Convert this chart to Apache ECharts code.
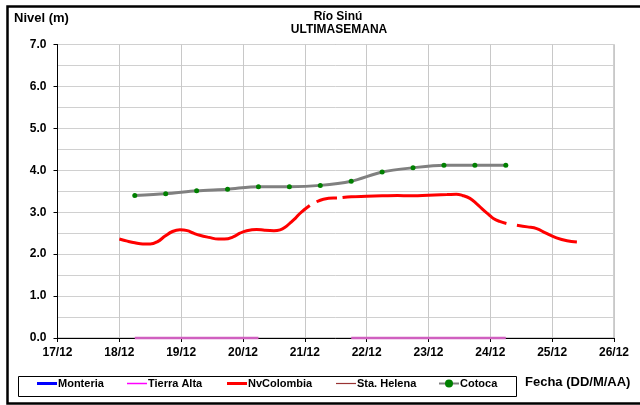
<!DOCTYPE html>
<html>
<head>
<meta charset="utf-8">
<script src="https://cdn.jsdelivr.net/npm/echarts@6/dist/echarts.min.js"></script>
<style>
  html, body { margin: 0; padding: 0; background: #fff; }
  #chart { width: 640px; height: 405px; }
</style>
</head>
<body>
<div id="chart"></div>
<script>
// Days counted from 17/12 (0 = 17/12 00:00)
const dayLabels = ['17/12', '18/12', '19/12', '20/12', '21/12', '22/12', '23/12', '24/12', '25/12', '26/12'];
const yTicks = [0, 1, 2, 3, 4, 5, 6, 7];

// Cotoca: twice-daily readings
const cotocaDays = [1.25, 1.75, 2.25, 2.75, 3.25, 3.75, 4.25, 4.75, 5.25, 5.75, 6.25, 6.75, 7.25];
const cotocaLevel = [3.40, 3.44, 3.51, 3.55, 3.61, 3.61, 3.64, 3.74, 3.96, 4.06, 4.12, 4.12, 4.12];

// NvColombia: frequent readings, null = missing reading
const nvDays = [1.00, 1.13, 1.25, 1.38, 1.50, 1.62, 1.74, 1.86, 1.98, 2.10, 2.20, 2.30, 2.45, 2.60, 2.70,
  2.84, 2.95, 3.06, 3.22, 3.35, 3.50, 3.60, 3.68, 3.76, 3.85, 3.92, 4.00, 4.08,
  4.13,
  4.19, 4.30, 4.46, 4.52,
  4.565,
  4.61, 4.75, 5.00, 5.25, 5.50, 5.70, 5.90, 6.10, 6.30, 6.45, 6.55, 6.67, 6.78, 6.89, 6.97, 7.05, 7.15, 7.26,
  7.34,
  7.43, 7.60, 7.75, 7.90, 8.07, 8.24, 8.40];
const nvLevel = [2.36, 2.31, 2.27, 2.24, 2.24, 2.30, 2.43, 2.54, 2.58, 2.56, 2.50, 2.45, 2.40, 2.36, 2.36,
  2.41, 2.50, 2.56, 2.59, 2.57, 2.56, 2.58, 2.64, 2.74, 2.86, 2.97, 3.07, 3.16,
  null,
  3.25, 3.31, 3.34, 3.34,
  null,
  3.35, 3.37, 3.38, 3.39, 3.40, 3.39, 3.40, 3.41, 3.42, 3.43, 3.40, 3.33, 3.20, 3.05, 2.95, 2.85, 2.78, 2.73,
  null,
  2.69, 2.65, 2.61, 2.50, 2.39, 2.32, 2.29];

// Tierra Alta: readings at zero, with a missing stretch
const taDays = [1.25, 2.25, 3.25, 4.00, 4.75, 5.75, 6.75, 7.25];
const taLevel = [0, 0, 0, null, 0, 0, 0, 0];

// Stations without readings in this period
const monteriaLevel = [];
const staHelenaLevel = [];

const pair = (xs, ys) => xs.map((x, i) => [x, ys[i]]);

const FONT = 'Liberation Sans';
const chart = echarts.init(document.getElementById('chart'), null, { renderer: 'canvas' });

// One legend entry per station, each placed along the legend box
function legendAt(name, left, thickness, color) {
  const item = thickness ? { name: name, icon: 'rect', itemStyle: { color: color } } : { name: name };
  return {
    data: [item],
    left: left,
    top: 378,
    padding: 0,
    itemWidth: 20,
    itemHeight: thickness || 10,
    itemGap: 0,
    textStyle: { fontFamily: FONT, fontWeight: 'bold', fontSize: 11, color: '#000', padding: [0, 0, 0, -4] },
    inactiveColor: '#000'
  };
}

chart.setOption({
  animation: false,
  backgroundColor: '#fff',
  grid: {
    left: 57.5, right: 26, top: 44.5, bottom: 67,
    show: true, borderColor: '#a0a0a0', borderWidth: 1, backgroundColor: 'transparent'
  },
  legend: [
    legendAt('Monteria', 37, 3, '#0000ff'),
    legendAt('Tierra Alta', 127, 1.5, '#ff00ff'),
    legendAt('NvColombia', 227, 3, '#ff0000'),
    legendAt('Sta. Helena', 336, 1.2, '#993333'),
    legendAt('Cotoca', 438, 0)
  ],
  xAxis: {
    type: 'value', min: 0, max: 9, interval: 1,
    axisLine: { show: true, onZero: false, lineStyle: { color: '#000', width: 1 } },
    axisTick: { show: true, length: 4, lineStyle: { color: '#000' } },
    axisLabel: {
      fontFamily: FONT, fontWeight: 'bold', fontSize: 12, color: '#000', margin: 9,
      formatter: v => dayLabels[Math.round(v)] || ''
    },
    splitLine: { show: true, lineStyle: { color: '#c8c8c8', width: 1 } }
  },
  yAxis: {
    type: 'value', min: 0, max: 7, interval: 1,
    axisLine: { show: true, lineStyle: { color: '#000', width: 1 } },
    axisTick: { show: true, length: 4, lineStyle: { color: '#000' } },
    minorTick: { show: false, splitNumber: 2 },
    minorSplitLine: { show: true, lineStyle: { color: '#d0d0d0', width: 1 } },
    axisLabel: {
      fontFamily: FONT, fontWeight: 'bold', fontSize: 12, color: '#000', margin: 11,
      formatter: v => yTicks.includes(v) ? v.toFixed(1) : ''
    },
    splitLine: { show: true, lineStyle: { color: '#d0d0d0', width: 1 } }
  },
  graphic: [
    { type: 'rect', left: 5, top: 4, shape: { width: 700, height: 397 }, style: { fill: 'none', stroke: '#000', lineWidth: 2.5 }, z: 100 },
    { type: 'rect', left: 16, top: 374, shape: { width: 498, height: 20 }, style: { fill: 'none', stroke: '#000', lineWidth: 1 }, z: 100 },
    { type: 'text', left: 14, top: 12, style: { text: 'Nivel (m)', font: 'bold 13px "Liberation Sans"', fill: '#000' } },
    { type: 'text', x: 338, y: 11, style: { text: 'Río Sinú', font: 'bold 12px "Liberation Sans"', fill: '#000', textAlign: 'center' } },
    { type: 'text', x: 339, y: 24, style: { text: 'ULTIMASEMANA', font: 'bold 12px "Liberation Sans"', fill: '#000', textAlign: 'center' } },
    { type: 'text', left: 525, top: 376, style: { text: 'Fecha (DD/M/AA)', font: 'bold 13px "Liberation Sans"', fill: '#000' } }
  ],
  series: [
    {
      name: 'Monteria', type: 'line', data: monteriaLevel, symbol: 'none',
      lineStyle: { color: '#0000ff', width: 3 }, itemStyle: { color: '#0000ff' }
    },
    {
      name: 'Tierra Alta', type: 'line', data: pair(taDays, taLevel), symbol: 'none',
      connectNulls: false, clip: false, z: 10,
      lineStyle: { color: '#d060c0', width: 2.5 }, itemStyle: { color: '#ff00ff' }
    },
    {
      name: 'NvColombia', type: 'line', data: pair(nvDays, nvLevel), symbol: 'none',
      smooth: 0.4, connectNulls: false,
      lineStyle: { color: '#ff0000', width: 3 }, itemStyle: { color: '#ff0000' }
    },
    {
      name: 'Sta. Helena', type: 'line', data: staHelenaLevel, symbol: 'none',
      lineStyle: { color: '#993333', width: 1 }, itemStyle: { color: '#993333' }
    },
    {
      name: 'Cotoca', type: 'line', data: pair(cotocaDays, cotocaLevel),
      symbol: 'circle', symbolSize: 5, smooth: 0.3,
      lineStyle: { color: '#808080', width: 3 }, itemStyle: { color: '#008000', borderWidth: 0 }
    }
  ]
});
</script>
</body>
</html>
